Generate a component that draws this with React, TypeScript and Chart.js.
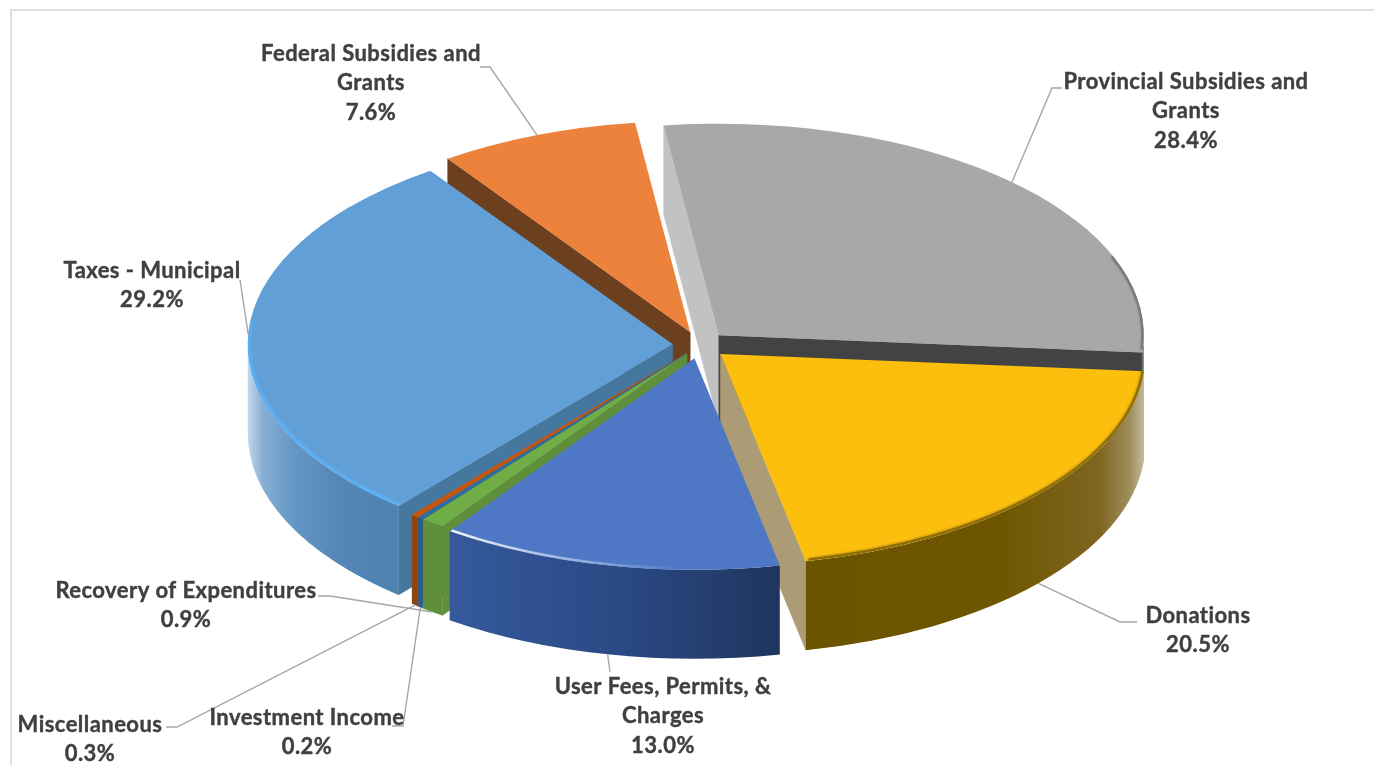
import React, { useEffect, useRef } from "react";
import { Chart, registerables } from "chart.js";

Chart.register(...registerables);

// Revenue shares, clockwise from the municipal taxes slice.
const categories = [
  "Taxes - Municipal",
  "Federal Subsidies and Grants",
  "Provincial Subsidies and Grants",
  "Donations",
  "User Fees, Permits, & Charges",
  "Recovery of Expenditures",
  "Investment Income",
  "Miscellaneous",
];
const shares = [29.2, 7.6, 28.4, 20.5, 13.0, 0.9, 0.2, 0.3];

const topColors = ["#639FD7", "#EC823C", "#A8A8A8", "#FCBF0E", "#4E78C6", "#70AD47", "#2A6FA8", "#C4560F"];
const startWallColors = ["#46789F", "#6C3F1E", "#C2C2C2", "#6B5300", "#2A4A85", "#5F8F3A", "#255E91", "#A04C10"];
const endWallColors = ["#46789F", "#6C3F1E", "#434343", "#AB9C75", "#2A4A85", "#5F8F3A", "#255E91", "#A04C10"];

// How far each slice is pulled out of the pie (Chart.js arc offset).
const sliceOffsets = [78, 78, 78, 78, 78, 62, 62, 62];

// Horizontal shading of the outer wall: [fraction across the slice's wall, colour].
const outerWallStops: [number, string][][] = [
  [[0, "#C3D8EA"], [0.1, "#88AFD3"], [0.3, "#6597C6"], [0.6, "#5586B6"], [1, "#4F82AF"]],
  [[0, "#6C3F1E"], [1, "#6C3F1E"]],
  [[0, "#6E6E6E"], [1, "#6E6E6E"]],
  [[0, "#6B5300"], [0.57, "#6E5600"], [0.87, "#7F6520"], [0.96, "#A09060"], [1, "#C4BA98"]],
  [[0, "#35599C"], [0.5, "#2A4A85"], [1, "#1F355F"]],
  [[0, "#5F8F3A"], [1, "#5F8F3A"]],
  [[0, "#255E91"], [1, "#255E91"]],
  [[0, "#8F4510"], [1, "#8F4510"]],
];

// Lit edge along the front of some top faces: [from, to] in degrees clockwise from east.
const rimEdges: { slice: number; from: number; to: number; color: string; fade: string; width: number; blur: number }[] = [
  { slice: 0, from: 129, to: 186, color: "#5BAEF2", fade: "#5BAEF2", width: 3, blur: 2 },
  { slice: 4, from: 92, to: 125, color: "#4E78C6", fade: "#F0F4FC", width: 2.5, blur: 0 },
  { slice: 3, from: 4, to: 78, color: "#8F6E08", fade: "#8F6E08", width: 2.5, blur: 3 },
  { slice: 2, from: -22, to: 4, color: "#7C7C7C", fade: "#7C7C7C", width: 2.5, blur: 2 },
];

// Where each caption sits and how its leader runs to the slice.
const labelPlacement = [
  { x: 152, y: 271, wrap: 400, front: false, path: [[240, 280]] },
  { x: 371, y: 54, wrap: 240, front: false, path: [[480, 67], [490, 67]] },
  { x: 1186, y: 82, wrap: 260, front: false, path: [[1062, 88], [1052, 88]] },
  { x: 1198, y: 616, wrap: 400, front: true, path: [[1137, 622], [1120, 622]] },
  { x: 663, y: 687, wrap: 235, front: true, path: [[610, 672]] },
  { x: 186, y: 591, wrap: 400, front: true, path: [[318, 596], [330, 596]] },
  { x: 307, y: 718, wrap: 400, front: true, path: [[392, 726], [403, 726]] },
  { x: 90, y: 725, wrap: 400, front: true, path: [[166, 727], [177, 727]] },
];

const FACE_RX = 425;
const FACE_RY = 211.5;
const WALL_DEPTH = 89;
const LINE_HEIGHT = 29.3;

const wrapText = (ctx: CanvasRenderingContext2D, text: string, maxWidth: number) => {
  const lines: string[] = [];
  let current = "";
  for (const word of text.split(" ")) {
    const next = current ? current + " " + word : word;
    if (ctx.measureText(next).width > maxWidth && current) {
      lines.push(current);
      current = word;
    } else {
      current = next;
    }
  }
  lines.push(current);
  return lines;
};

// Draws the pie's arc elements as tilted, extruded wedges.
const tiltedPie = {
  id: "tiltedPie",
  beforeDraw(chart: any) {
    const { ctx } = chart;
    ctx.save();
    ctx.strokeStyle = "#DFDFDF";
    ctx.lineWidth = 2;
    ctx.beginPath();
    ctx.moveTo(11, 770);
    ctx.lineTo(11, 10);
    ctx.lineTo(1374, 10);
    ctx.stroke();
    ctx.restore();
  },
  beforeDatasetsDraw(chart: any) {
    const { ctx } = chart;
    const arcs = chart.getDatasetMeta(0).data;
    const wedges = arcs.map((arc: any, index: number) => {
      const scale = FACE_RX / arc.outerRadius;
      const mid = (arc.startAngle + arc.endAngle) / 2;
      const shift = ((arc.options.offset || 0) / 4) * scale;
      return {
        index,
        mid,
        start: arc.startAngle,
        end: arc.endAngle,
        x: arc.x + Math.cos(mid) * shift,
        y: arc.y + (Math.sin(mid) * shift * FACE_RY) / FACE_RX,
      };
    });
    chart.$wedges = wedges;

    const rimPoint = (w: any, a: number) => [w.x + Math.cos(a) * FACE_RX, w.y + Math.sin(a) * FACE_RY];

    const radialWall = (w: any, a: number, color: string) => {
      const [px, py] = rimPoint(w, a);
      ctx.fillStyle = color;
      ctx.strokeStyle = color;
      ctx.lineWidth = 0.5;
      ctx.beginPath();
      ctx.moveTo(w.x, w.y);
      ctx.lineTo(px, py);
      ctx.lineTo(px, py + WALL_DEPTH);
      ctx.lineTo(w.x, w.y + WALL_DEPTH);
      ctx.closePath();
      ctx.fill();
      ctx.stroke();
    };

    const outerWall = (w: any) => {
      for (let k = -1; k <= 1; k++) {
        const lo = Math.max(w.start, k * 2 * Math.PI);
        const hi = Math.min(w.end, k * 2 * Math.PI + Math.PI);
        if (hi <= lo) continue;
        const xs = [Math.cos(lo), Math.cos(hi)];
        if (lo < k * 2 * Math.PI + Math.PI / 2 && hi > k * 2 * Math.PI + Math.PI / 2) xs.push(0);
        const x0 = w.x + Math.min(...xs) * FACE_RX;
        const x1 = w.x + Math.max(...xs) * FACE_RX;
        const gradient = ctx.createLinearGradient(x0, 0, x1, 0);
        for (const [at, color] of outerWallStops[w.index]) gradient.addColorStop(at, color);
        ctx.fillStyle = gradient;
        ctx.beginPath();
        ctx.ellipse(w.x, w.y, FACE_RX, FACE_RY, 0, lo, hi);
        ctx.ellipse(w.x, w.y + WALL_DEPTH, FACE_RX, FACE_RY, 0, hi, lo, true);
        ctx.closePath();
        ctx.fill();
      }
    };

    const order = [...wedges].sort((a: any, b: any) => Math.sin(a.mid) - Math.sin(b.mid));
    for (const w of order) {
      if (Math.cos(w.start) < 0) radialWall(w, w.start, startWallColors[w.index]);
      if (Math.cos(w.end) > 0) radialWall(w, w.end, endWallColors[w.index]);
      outerWall(w);

      ctx.fillStyle = arcs[w.index].options.backgroundColor;
      ctx.beginPath();
      ctx.moveTo(w.x, w.y);
      ctx.ellipse(w.x, w.y, FACE_RX, FACE_RY, 0, w.start, w.end);
      ctx.closePath();
      ctx.fill();

      for (const rim of rimEdges) {
        if (rim.slice !== w.index) continue;
        const from = (rim.from * Math.PI) / 180;
        const to = (rim.to * Math.PI) / 180;
        const gradient = ctx.createLinearGradient(w.x + Math.cos(from) * FACE_RX, 0, w.x + Math.cos(to) * FACE_RX, 0);
        gradient.addColorStop(0, rim.color);
        gradient.addColorStop(1, rim.fade);
        ctx.save();
        // Keep the soft edge inside the wedge's top face.
        ctx.beginPath();
        ctx.moveTo(w.x, w.y);
        ctx.ellipse(w.x, w.y, FACE_RX, FACE_RY, 0, w.start, w.end);
        ctx.closePath();
        ctx.clip();
        ctx.strokeStyle = gradient;
        ctx.lineWidth = rim.width;
        ctx.shadowColor = rim.color;
        ctx.shadowBlur = rim.blur;
        ctx.beginPath();
        ctx.ellipse(w.x, w.y, FACE_RX - rim.width / 2, FACE_RY - rim.width / 2, 0, from, to);
        ctx.stroke();
        ctx.restore();
      }
    }
    return false;
  },
  afterDraw(chart: any) {
    const { ctx } = chart;
    const wedges = chart.$wedges;
    ctx.save();
    ctx.strokeStyle = "#A6A6A6";
    ctx.lineWidth = 1.4;
    labelPlacement.forEach((place, i) => {
      const w = wedges[i];
      const ax = w.x + Math.cos(w.mid) * FACE_RX;
      const ay = w.y + Math.sin(w.mid) * FACE_RY + (place.front ? WALL_DEPTH : 0);
      ctx.beginPath();
      place.path.forEach(([x, y], n) => (n ? ctx.lineTo(x, y) : ctx.moveTo(x, y)));
      ctx.lineTo(ax, ay);
      ctx.stroke();
    });
    ctx.fillStyle = "#404040";
    ctx.strokeStyle = "#404040";
    ctx.lineWidth = 0.4;
    ctx.font = "bold 22px Lato";
    ctx.letterSpacing = "0.45px";
    ctx.textAlign = "center";
    ctx.textBaseline = "middle";
    labelPlacement.forEach((place, i) => {
      const lines = [...wrapText(ctx, categories[i], place.wrap), shares[i].toFixed(1) + "%"];
      lines.forEach((line, n) => {
        ctx.fillText(line, place.x, place.y + n * LINE_HEIGHT);
        ctx.strokeText(line, place.x, place.y + n * LINE_HEIGHT);
      });
    });
    ctx.restore();
  },
};

export default function App() {
  const canvasRef = useRef<HTMLCanvasElement>(null);
  useEffect(() => {
    document.body.style.margin = "0";
    const chart = new Chart(canvasRef.current!, {
      type: "pie",
      data: {
        labels: categories,
        datasets: [{ data: shares, backgroundColor: topColors, borderWidth: 0, offset: sliceOffsets, clip: false }],
      },
      options: {
        responsive: false,
        animation: false,
        rotation: -139.8,
        layout: { padding: { left: 26, right: 0, top: 2, bottom: 77 } },
        plugins: { legend: { display: false }, tooltip: { enabled: false } },
      },
      plugins: [tiltedPie],
    } as any);
    return () => chart.destroy();
  }, []);
  return <canvas ref={canvasRef} width={1374} height={765} style={{ display: "block" }} />;
}
